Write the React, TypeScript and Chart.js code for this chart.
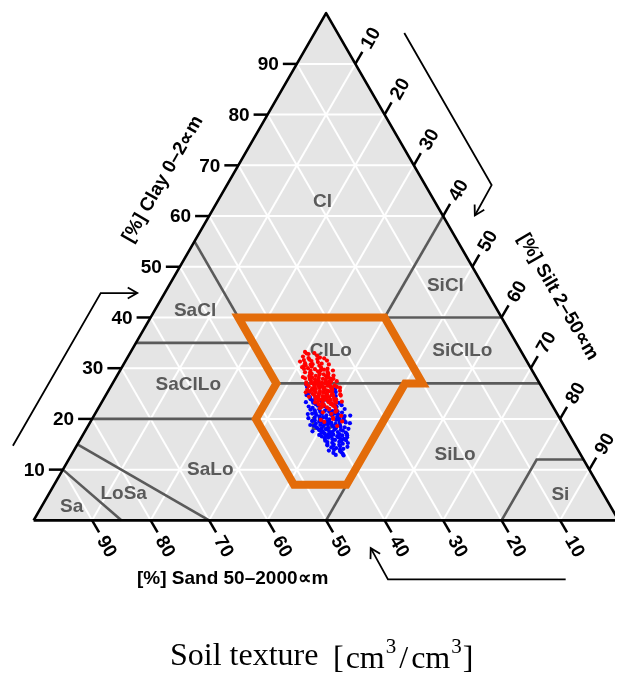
import React, { useEffect, useRef } from "react";
import { Chart, registerables } from "chart.js";

Chart.register(...registerables);

// Percent steps of the internal grid and of the tick marks on each side
const gridSteps = [10, 20, 30, 40, 50, 60, 70, 80, 90];
const clayTicks = [10, 20, 30, 40, 50, 60, 70, 80, 90];
const siltTicks = [10, 20, 30, 40, 50, 60, 70, 80, 90];
const sandTicks = [10, 20, 30, 40, 50, 60, 70, 80, 90];

// Texture class labels, placed at [clay %, silt %]
const classNames = ["Cl", "SiCl", "SaCl", "ClLo", "SiClLo", "SaClLo", "Lo", "SaLo", "SiLo", "LoSa", "Sa", "Si"];
const classClay = [63, 46.4, 41.6, 33.6, 33.6, 26.9, 19, 10.2, 13.1, 5.4, 2.8, 5.3];
const classSilt = [17.9, 47.2, 6.8, 34.0, 56.5, 13.0, 39.8, 25.1, 65.5, 12.7, 5.1, 87.4];

// Texture class boundaries, polylines of [clay %, silt %]
const boundaryLines: [number, number][][] = [
  [[10, 0], [0, 15]],
  [[15, 0], [0, 30]],
  [[20, 0], [20, 28]],
  [[20, 28], [27, 28]],
  [[27, 28], [55, 0]],
  [[35, 0], [35, 20]],
  [[40, 15], [40, 60]],
  [[40, 40], [60, 40]],
  [[27, 28], [27, 73]],
  [[0, 50], [27, 50]],
  [[7, 41], [7, 50]],
  [[7, 41], [20, 28]],
  [[27, 53], [40, 40]],
  [[0, 80], [12, 80], [12, 88]],
];

// Outlined region (clay loam + loam), corners as clay % / silt %
const regionClay = [40, 40, 27, 27, 7, 7, 20, 27];
const regionSilt = [15, 40, 53, 50, 50, 41, 28, 28];

// Sample compositions [clay %, silt %]
const redSamples: [number, number][] = [
  [33.2, 29.8], [33.0, 31.5], [32.8, 30.6], [32.5, 32.2], [32.3, 29.9], [32.0, 31.0], [31.8, 32.6], [31.6, 30.4],
  [31.4, 31.8], [31.2, 33.0], [31.0, 30.9], [30.8, 32.3], [30.6, 31.2], [30.5, 33.6], [30.3, 32.4], [30.1, 34.1],
  [30.0, 31.9], [29.8, 33.2], [29.7, 34.8], [29.5, 32.6], [29.4, 33.9], [29.2, 31.8], [29.0, 34.4], [28.9, 33.1],
  [28.8, 35.2], [28.6, 32.9], [28.5, 34.0], [28.4, 35.8], [28.2, 33.5], [28.1, 34.7], [28.0, 32.4], [27.9, 35.5],
  [29.9, 35.3], [30.4, 31.0], [29.3, 35.6], [28.7, 36.0], [31.5, 34.4],
  [27.8, 34.2], [27.7, 36.1], [27.6, 33.6], [27.5, 35.0], [27.4, 36.8], [27.3, 34.5], [27.2, 35.7], [27.1, 33.9],
  [27.0, 36.4], [26.9, 35.1], [26.8, 37.2], [26.7, 34.6], [26.6, 36.0], [26.5, 35.4], [26.4, 37.5], [26.3, 34.9],
  [26.2, 36.6], [26.1, 35.8], [26.0, 37.9], [25.9, 35.3], [25.8, 36.9], [25.7, 34.7], [25.6, 37.4], [25.5, 36.2],
  [25.4, 38.3], [25.3, 35.6], [25.2, 37.0], [25.1, 36.4], [25.0, 38.6], [27.9, 37.3], [26.6, 38.2], [25.8, 33.9],
  [27.2, 33.0], [26.3, 38.7], [25.4, 34.5],
  [24.9, 36.3], [24.8, 37.8], [24.7, 35.6], [24.6, 38.9], [24.5, 37.1], [24.4, 36.0], [24.3, 38.4], [24.2, 37.5],
  [24.1, 39.3], [24.0, 36.7], [23.9, 38.0], [23.8, 37.3], [23.7, 39.6], [23.6, 38.5], [23.5, 36.9], [23.3, 38.8],
  [23.2, 40.1], [23.0, 37.8], [22.9, 39.4], [22.7, 38.3], [22.5, 40.2], [22.3, 39.0], [22.1, 37.9], [23.4, 41.0],
  [24.6, 40.2], [21.9, 39.6], [21.6, 41.0], [21.3, 38.8], [21.0, 40.4], [20.6, 42.3], [20.2, 41.1], [19.8, 39.2],
  [19.5, 43.0], [20.0, 41.2], [19.4, 40.0], [18.6, 42.6], [21.4, 40.9],
  [32.9, 30.2], [32.1, 32.9], [31.7, 31.3], [31.3, 29.9], [30.9, 33.8], [30.7, 32.0], [30.2, 30.8], [29.6, 34.3],
  [29.1, 32.7], [28.95, 35.9], [28.3, 33.0], [28.15, 36.3], [27.85, 33.3], [27.65, 34.8], [27.35, 37.2], [27.05, 34.3],
  [26.95, 36.9], [26.75, 35.6], [26.45, 33.8], [26.25, 37.9], [26.05, 34.6], [25.95, 36.6], [25.65, 35.1], [25.45, 37.8],
  [25.25, 33.9], [25.05, 37.5], [24.95, 35.2], [24.75, 38.6], [24.55, 36.4], [24.35, 34.9], [24.15, 38.0], [23.95, 36.2],
  [23.75, 38.9], [23.55, 37.7], [23.25, 36.5], [23.05, 39.5], [22.85, 37.3], [22.6, 39.9], [22.4, 38.1], [22.2, 40.5],
  [27.45, 38.1], [26.85, 33.2], [28.55, 37.0], [29.55, 36.4], [27.95, 36.8], [26.15, 39.3], [25.55, 39.6], [24.85, 40.0],
  [28.25, 31.9], [29.85, 31.3], [30.75, 35.1], [31.95, 33.7], [26.55, 37.0], [25.35, 36.9], [27.25, 36.3], [26.35, 35.9],
  [25.75, 38.2], [24.45, 37.6], [23.85, 39.8], [28.75, 34.5],
];

const blueSamples: [number, number][] = [
  [26.8, 33.2], [26.3, 33.6], [25.7, 34.0], [25.1, 34.5], [24.7, 34.3], [24.3, 35.1], [23.9, 35.4], [25.9, 38.6],
  [25.3, 39.0], [24.5, 39.4],
  [23.6, 35.9], [23.4, 37.6], [23.2, 36.2], [23.0, 39.4], [22.9, 36.8], [22.8, 40.1], [22.6, 37.3], [22.5, 38.4],
  [22.4, 40.6], [22.2, 36.6], [22.0, 39.5], [21.9, 37.9], [21.8, 40.8], [21.7, 37.2], [21.6, 39.0], [21.5, 41.2],
  [21.4, 38.3], [21.3, 40.1], [21.2, 37.6], [21.1, 41.0], [21.0, 38.8], [20.9, 41.6], [20.8, 37.9], [20.7, 39.7],
  [20.6, 40.8],
  [20.5, 38.6], [20.4, 41.7], [20.3, 37.9], [20.2, 39.9], [20.1, 42.2], [20.0, 38.9], [19.9, 40.6], [19.8, 41.8],
  [19.7, 39.4], [19.6, 37.8], [19.5, 40.5], [19.4, 42.6], [19.3, 39.8], [19.2, 41.3], [19.1, 38.7], [19.0, 40.3],
  [18.9, 42.9], [18.8, 39.6], [18.7, 41.7], [18.6, 40.2], [18.5, 43.2], [18.4, 39.1], [18.3, 41.2], [18.2, 42.6],
  [18.1, 40.2], [18.0, 41.1], [19.9, 43.0], [18.8, 37.9], [19.3, 43.7], [20.3, 42.9],
  [17.9, 42.5], [17.8, 39.9], [17.7, 44.0], [17.6, 41.7], [17.5, 40.7], [17.4, 43.3], [17.3, 44.7], [17.2, 42.2],
  [17.1, 41.2], [17.0, 43.8], [16.9, 42.8], [16.8, 45.2], [16.7, 41.6], [16.6, 43.6], [16.5, 42.6], [16.4, 45.4],
  [16.3, 42.2], [16.2, 44.3], [16.0, 43.1], [15.8, 45.5], [15.7, 42.0], [15.5, 44.5], [15.3, 43.4], [15.1, 45.3],
  [15.0, 43.8],
  [14.8, 42.8], [14.6, 45.1], [14.4, 43.7], [14.1, 45.9], [13.9, 44.4], [13.6, 45.6], [13.3, 44.6], [13.1, 46.3],
  [24.1, 36.1], [23.7, 38.3], [23.3, 34.9], [22.95, 38.0], [22.7, 41.3], [22.35, 37.9], [22.1, 39.1], [21.85, 36.4],
  [21.55, 40.3], [21.25, 42.1], [21.05, 37.1], [20.85, 40.4], [20.55, 42.9], [20.35, 39.3], [20.15, 36.9], [19.95, 41.9],
  [19.75, 38.2], [19.55, 43.4], [19.45, 39.1], [19.25, 40.9], [19.05, 42.1], [18.85, 40.9], [18.65, 38.6], [18.45, 42.0],
  [18.35, 44.0], [18.15, 39.5], [17.95, 41.0], [17.85, 43.6], [17.65, 40.3], [17.45, 42.4], [17.25, 40.6], [17.05, 45.0],
  [16.95, 41.9], [16.75, 44.4], [16.55, 41.0], [16.35, 43.9], [16.15, 41.7], [16.05, 45.0], [15.85, 43.6], [15.65, 44.8],
  [15.45, 42.5], [15.25, 46.1], [15.05, 42.7], [14.9, 44.8], [14.7, 43.9], [14.5, 46.4], [14.25, 44.6], [13.95, 45.4],
  [13.75, 43.6], [13.45, 45.9], [22.45, 35.8], [21.95, 42.2], [20.95, 36.4], [19.15, 44.5], [18.05, 44.8], [17.55, 38.9],
  [16.85, 40.4], [20.65, 43.8], [21.45, 39.8], [23.15, 40.6], [12.9, 45.2], [12.8, 46.6],
];

// Guide arrows beside each side, in plot units
const clayArrow = [[-0.0354, 0.1471], [0.1147, 0.4482], [0.1772, 0.4482]];
const siltArrow = [[0.6337, 0.961], [0.783, 0.661], [0.7543, 0.6011]];
const sandArrow = [[0.9096, -0.1165], [0.6058, -0.1165], [0.5763, -0.0548]];

// Ternary (clay, silt) in percent -> plot units
const tern = (clay: number, silt: number) => ({ x: (silt + clay / 2) / 100, y: clay / 100 });

const LABEL_FONT = '"Liberation Sans", Arial, sans-serif';
const SERIF = '"Liberation Serif", "DejaVu Serif", serif';

function lineDs(data: { x: number; y: number }[], color: string, width: number, order: number, extra: any = {}) {
  return {
    label: "line",
    data,
    showLine: true,
    borderColor: color,
    borderWidth: width,
    pointRadius: 0,
    pointHoverRadius: 0,
    tension: 0,
    fill: false,
    borderCapStyle: "butt",
    borderJoinStyle: "miter",
    order,
    ...extra,
  };
}

const decorations = {
  id: "ternaryDecorations",
  beforeDatasetDraw(chart: any, args: any) {
    if (chart.data.datasets[args.index].label !== "blue") return;
    const { ctx, scales } = chart;
    ctx.save();
    ctx.font = `bold 19px ${LABEL_FONT}`;
    ctx.fillStyle = "#5a5a5a";
    ctx.textAlign = "center";
    ctx.textBaseline = "middle";
    classNames.forEach((name, i) => {
      const p = tern(classClay[i], classSilt[i]);
      ctx.fillText(name, scales.x.getPixelForValue(p.x), scales.y.getPixelForValue(p.y) + 1);
    });
    ctx.restore();
  },
  afterDraw(chart: any) {
    const { ctx, scales } = chart;
    const pix = (clay: number, silt: number) => {
      const p = tern(clay, silt);
      return [scales.x.getPixelForValue(p.x), scales.y.getPixelForValue(p.y)];
    };
    const cos60 = 0.5;
    const sin60 = Math.sqrt(3) / 2;
    const TICK = 14;
    const LABEL_DIST = 30;

    ctx.save();
    ctx.strokeStyle = "#000";
    ctx.fillStyle = "#000";
    ctx.lineWidth = 2.5;
    ctx.lineCap = "butt";
    ctx.font = `bold 19px ${LABEL_FONT}`;

    // clay ticks (left side)
    clayTicks.forEach((c) => {
      const [ex, ey] = pix(c, 0);
      ctx.beginPath();
      ctx.moveTo(ex - TICK, ey);
      ctx.lineTo(ex, ey);
      ctx.stroke();
      ctx.textAlign = "right";
      ctx.textBaseline = "middle";
      ctx.fillText(String(c), ex - TICK - 4, ey + 1);
    });

    // silt ticks (right side)
    siltTicks.forEach((s) => {
      const [ex, ey] = pix(100 - s, s);
      const dx = cos60, dy = -sin60;
      ctx.beginPath();
      ctx.moveTo(ex, ey);
      ctx.lineTo(ex + dx * TICK, ey + dy * TICK);
      ctx.stroke();
      ctx.save();
      ctx.translate(ex + dx * LABEL_DIST, ey + dy * LABEL_DIST);
      ctx.rotate(-Math.PI / 3);
      ctx.textAlign = "center";
      ctx.textBaseline = "middle";
      ctx.fillText(String(s), 0, 1);
      ctx.restore();
    });

    // sand ticks (bottom side)
    sandTicks.forEach((s) => {
      const [ex, ey] = pix(0, 100 - s);
      const dx = cos60, dy = sin60;
      ctx.beginPath();
      ctx.moveTo(ex, ey);
      ctx.lineTo(ex + dx * TICK, ey + dy * TICK);
      ctx.stroke();
      ctx.save();
      ctx.translate(ex + dx * LABEL_DIST, ey + dy * LABEL_DIST);
      ctx.rotate(Math.PI / 3);
      ctx.textAlign = "center";
      ctx.textBaseline = "middle";
      ctx.fillText(String(s), 0, 1);
      ctx.restore();
    });

    // guide arrows
    const drawArrow = (pts: number[][]) => {
      const p = pts.map(([u, v]) => [scales.x.getPixelForValue(u), scales.y.getPixelForValue(v)]);
      ctx.lineWidth = 1.8;
      ctx.lineJoin = "miter";
      ctx.beginPath();
      p.forEach(([x, y], i) => (i ? ctx.lineTo(x, y) : ctx.moveTo(x, y)));
      ctx.stroke();
      const [tx, ty] = p[p.length - 1];
      const [fx, fy] = p[p.length - 2];
      const ang = Math.atan2(ty - fy, tx - fx);
      const L = 11;
      ctx.beginPath();
      ctx.moveTo(tx - L * Math.cos(ang - Math.PI / 6), ty - L * Math.sin(ang - Math.PI / 6));
      ctx.lineTo(tx, ty);
      ctx.lineTo(tx - L * Math.cos(ang + Math.PI / 6), ty - L * Math.sin(ang + Math.PI / 6));
      ctx.stroke();
    };
    drawArrow(clayArrow);
    drawArrow(siltArrow);
    drawArrow(sandArrow);

    // axis titles
    ctx.font = `bold 19px ${LABEL_FONT}`;
    ctx.textBaseline = "middle";
    ctx.textAlign = "center";
    ctx.save();
    ctx.translate(163, 179);
    ctx.rotate(-Math.PI / 3);
    ctx.fillText("[%] Clay 0\u20132\u221Dm", 0, 0);
    ctx.restore();
    ctx.save();
    ctx.translate(558, 297);
    ctx.rotate(Math.PI / 3);
    ctx.fillText("[%] Silt 2\u201350\u221Dm", 0, 0);
    ctx.restore();
    ctx.textAlign = "left";
    ctx.fillText("[%] Sand 50\u20132000\u221Dm", 137, 579);

    // chart caption
    ctx.textBaseline = "alphabetic";
    ctx.textAlign = "left";
    ctx.font = `32px ${SERIF}`;
    ctx.fillText("Soil texture", 170, 665);
    let x = 333;
    const base = 668;
    const big = `32px ${SERIF}`;
    const small = `21px ${SERIF}`;
    const parts: [string, string, number, number][] = [
      ["[", big, 0, 2],
      ["cm", big, 0, 1],
      ["3", small, -15, 3],
      ["/", big, 0, 3],
      ["cm", big, 0, 1],
      ["3", small, -15, 1],
      ["]", big, 0, 0],
    ];
    parts.forEach(([t, f, dy, gap]) => {
      ctx.font = f;
      ctx.fillText(t, x, base + dy);
      x += ctx.measureText(t).width + gap;
    });
    ctx.restore();
  },
};

export default function App() {
  const canvasRef = useRef<HTMLCanvasElement | null>(null);

  useEffect(() => {
    if (!canvasRef.current) return;

    const corners = [tern(0, 0), tern(0, 100), tern(100, 0)];
    const triangle = [...corners, corners[0]];

    const grid: any[] = [];
    gridSteps.forEach((k) => {
      grid.push(lineDs([tern(k, 0), tern(k, 100 - k)], "#ffffff", 2, 5));
      grid.push(lineDs([tern(0, k), tern(100 - k, k)], "#ffffff", 2, 5));
      grid.push(lineDs([tern(0, 100 - k), tern(100 - k, 0)], "#ffffff", 2, 5));
    });

    const bounds = boundaryLines.map((pl) => lineDs(pl.map(([c, s]) => tern(c, s)), "#5a5a5a", 2.6, 4));

    const regionPts = regionClay.map((c, i) => tern(c, regionSilt[i]));
    const region = lineDs([...regionPts, regionPts[0], regionPts[1]], "#e36c0a", 8, 2);

    const chart = new Chart(canvasRef.current, {
      type: "scatter",
      data: {
        datasets: [
          {
            label: "red",
            data: redSamples.map(([c, s]) => tern(c, s)),
            pointRadius: 2.1,
            pointBorderWidth: 0,
            pointBackgroundColor: "#ff0000",
            backgroundColor: "#ff0000",
            borderColor: "#ff0000",
            order: 0,
          },
          {
            label: "blue",
            data: blueSamples.map(([c, s]) => tern(c, s)),
            pointRadius: 2.1,
            pointBorderWidth: 0,
            pointBackgroundColor: "#0000ff",
            backgroundColor: "#0000ff",
            borderColor: "#0000ff",
            order: 1,
          },
          region as any,
          lineDs(triangle, "#000000", 2.6, 3, { borderJoinStyle: "round" }) as any,
          ...bounds,
          ...grid,
          lineDs(triangle, "rgba(0,0,0,0)", 1, 6, { fill: "shape", backgroundColor: "#e5e5e5" }) as any,
        ],
      },
      options: {
        animation: false,
        responsive: false,
        maintainAspectRatio: false,
        events: [],
        layout: { padding: 0 },
        plugins: {
          legend: { display: false },
          tooltip: { enabled: false },
          title: { display: false },
        },
        scales: {
          x: { type: "linear", min: -30 / 592.6, max: 589 / 592.6, display: false },
          y: { type: "linear", min: -156.5 / 513.2, max: 522.5 / 513.2, display: false },
        },
      },
      plugins: [decorations],
    });

    return () => chart.destroy();
  }, []);

  return (
    <div style={{ position: "absolute", left: 0, top: 0, width: 619, height: 679, background: "#fff" }}>
      <canvas ref={canvasRef} width={619} height={679} style={{ display: "block" }} />
    </div>
  );
}
